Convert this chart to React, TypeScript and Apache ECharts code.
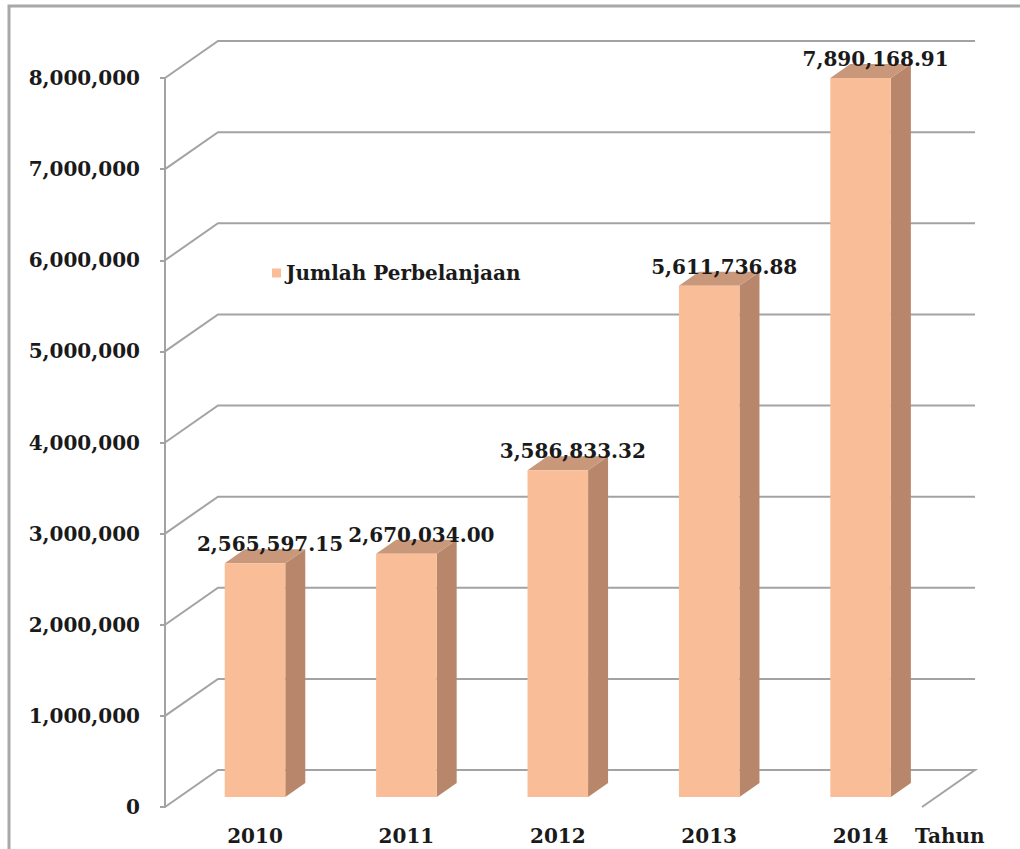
import React, { useEffect, useRef } from "react";
import * as echarts from "echarts";

const years = ["2010", "2011", "2012", "2013", "2014"];
const spending = [2565597.15, 2670034.0, 3586833.32, 5611736.88, 7890168.91];
const yTicks = [0, 1000000, 2000000, 3000000, 4000000, 5000000, 6000000, 7000000, 8000000];
const seriesName = "Jumlah Perbelanjaan";
const axisTitle = "Tahun";

const FONT = "DejaVu Serif";
const TEXT = "#1a1a1a";
const GRID_COLOR = "#a3a3a3";
const FRONT = "#f9bd97";
const SIDE = "#b8876b";
const TOP = "#c9987a";
// perspective depth of the whole floor and of a bar
const DEPTH = [53, -37];
const BAR_DEPTH = [20, -14];

export default function App() {
  const ref = useRef<HTMLDivElement>(null);
  useEffect(() => {
    if (!ref.current) return;
    const chart = echarts.init(ref.current, null, { renderer: "svg" });
    const gridLeft = 165;
    const gridTop = 78;
    const gridW = 757;
    const gridH = 729;
    const shiftX = 14.3;
    const shiftY = -10;
    chart.setOption({
      animation: false,
      backgroundColor: "#ffffff",
      legend: {
        data: [seriesName],
        left: 267,
        top: 258,
        icon: "rect",
        itemWidth: 9,
        itemHeight: 9,
        itemGap: 6,
        textStyle: { fontFamily: FONT, fontWeight: "bold", fontSize: 20, color: TEXT },
      },
      grid: [
        { left: gridLeft, top: gridTop, width: gridW, height: gridH },
        { left: gridLeft + shiftX, top: gridTop + shiftY, width: gridW, height: gridH },
      ],
      xAxis: [
        { type: "category", data: years, gridIndex: 0, show: false },
        {
          type: "category",
          data: years,
          gridIndex: 1,
          axisLine: { show: false },
          axisTick: { show: false },
          axisLabel: {
            margin: 29,
            fontFamily: FONT,
            fontWeight: "bold",
            fontSize: 20,
            color: TEXT,
          },
        },
      ],
      yAxis: [
        {
          type: "value",
          gridIndex: 0,
          min: 0,
          max: 8000000,
          interval: 1000000,
          axisLine: { show: true, lineStyle: { color: GRID_COLOR, width: 2 } },
          axisTick: { show: true, inside: false, length: 5, lineStyle: { color: GRID_COLOR, width: 2 } },
          splitLine: { show: false },
          axisLabel: {
            margin: 25,
            fontFamily: FONT,
            fontWeight: "bold",
            fontSize: 20,
            color: TEXT,
            formatter: (v: number) => v.toLocaleString("en-US"),
          },
        },
        {
          type: "value",
          gridIndex: 1,
          min: 0,
          max: 8000000,
          interval: 1000000,
          show: false,
          splitLine: { show: false },
        },
      ],
      graphic: [
        {
          type: "rect",
          shape: { x: 9, y: 6, width: 1200, height: 1000 },
          style: { fill: "none", stroke: "#a8a8a8", lineWidth: 3 },
          silent: true,
        },
        {
          type: "text",
          x: 915,
          y: 836,
          style: {
            text: axisTitle,
            fontFamily: FONT,
            fontWeight: "bold",
            fontSize: 20,
            fill: TEXT,
            textVerticalAlign: "middle",
          },
        },
      ],
      series: [
        {
          type: "custom",
          name: "gridlines",
          xAxisIndex: 0,
          yAxisIndex: 0,
          clip: false,
          z: 1,
          silent: true,
          data: yTicks.map((v) => [0, v]),
          renderItem: (params: any, api: any) => {
            const cs = params.coordSys;
            const y = api.coord([0, api.value(1)])[1];
            const left = cs.x;
            const right = cs.x + cs.width;
            const pts: number[][] = [
              [left, y],
              [left + DEPTH[0], y + DEPTH[1]],
              [right + DEPTH[0], y + DEPTH[1]],
            ];
            if (api.value(1) === 0) pts.push([right, y]);
            return {
              type: "polyline",
              shape: { points: pts },
              style: { stroke: GRID_COLOR, lineWidth: 2, fill: "none" },
            };
          },
        },
        {
          type: "custom",
          name: seriesName,
          xAxisIndex: 1,
          yAxisIndex: 1,
          clip: false,
          z: 5,
          itemStyle: { color: FRONT },
          data: spending.map((v, i) => [i, v]),
          renderItem: (params: any, api: any) => {
            const i = api.value(0);
            const v = api.value(1);
            const base = api.coord([i, 0]);
            const top = api.coord([i, v]);
            const bw = api.size([1, 0])[0] * 0.4;
            const x0 = base[0] - bw / 2;
            const x1 = x0 + bw;
            const [dx, dy] = BAR_DEPTH;
            const label = v.toLocaleString("en-US", {
              minimumFractionDigits: 2,
              maximumFractionDigits: 2,
            });
            return {
              type: "group",
              children: [
                {
                  type: "polygon",
                  shape: {
                    points: [
                      [x1, top[1]],
                      [x1 + dx, top[1] + dy],
                      [x1 + dx, base[1] + dy],
                      [x1, base[1]],
                    ],
                  },
                  style: { fill: SIDE },
                },
                {
                  type: "polygon",
                  shape: {
                    points: [
                      [x0, top[1]],
                      [x0 + dx, top[1] + dy],
                      [x1 + dx, top[1] + dy],
                      [x1, top[1]],
                    ],
                  },
                  style: { fill: TOP },
                },
                {
                  type: "rect",
                  shape: { x: x0, y: top[1], width: bw, height: base[1] - top[1] },
                  style: { fill: FRONT },
                },
                {
                  type: "text",
                  x: base[0] + 15,
                  y: top[1] - 19,
                  z2: 10,
                  style: {
                    text: label,
                    fontFamily: FONT,
                    fontWeight: "bold",
                    fontSize: 20,
                    fill: TEXT,
                    textAlign: "center",
                    textVerticalAlign: "middle",
                  },
                },
              ],
            };
          },
        },
      ],
    });
    return () => chart.dispose();
  }, []);
  return (
    <div
      ref={ref}
      style={{ position: "absolute", left: 0, top: 0, width: 1020, height: 849 }}
    />
  );
}
